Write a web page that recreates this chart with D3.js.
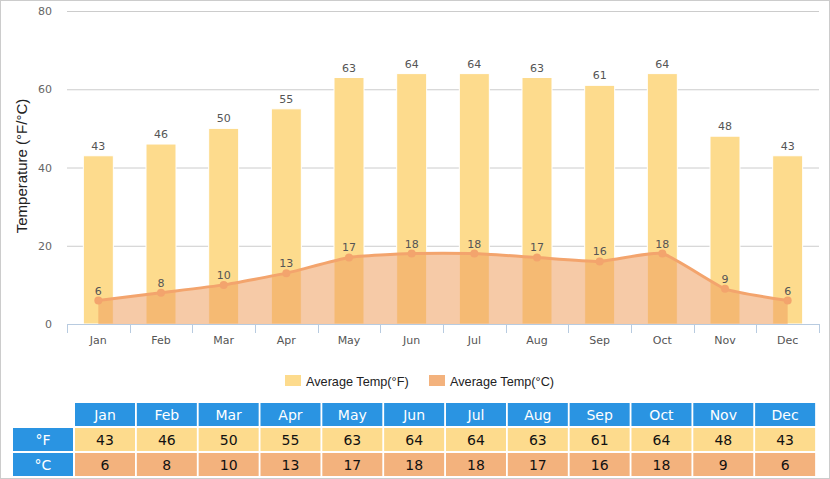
<!DOCTYPE html>
<html><head><meta charset="utf-8">
<script src="https://cdn.jsdelivr.net/npm/d3@7"></script>
<style>body{margin:0;background:#fff}svg{display:block}</style>
</head><body>
<svg id="c" width="830" height="479"></svg>
<script>
const months = ["Jan","Feb","Mar","Apr","May","Jun","Jul","Aug","Sep","Oct","Nov","Dec"];
const tempF = [43,46,50,55,63,64,64,63,61,64,48,43];
const tempC = [6,8,10,13,17,18,18,17,16,18,9,6];
const yTicks = [0,20,40,60,80];
const seriesNames = ["Average Temp(°F)","Average Temp(°C)"];

const svg = d3.select("#c");
svg.append("rect").attr("x",0.5).attr("y",0.5).attr("width",829).attr("height",478)
  .attr("fill","#fff").attr("stroke","#ccc");

const x = d3.scaleBand().domain(months).range([67,819]);
const y = d3.scaleLinear().domain([0,80]).range([324,11]);
const cx = d => x(d)+x.bandwidth()/2;

// grid
svg.append("g").selectAll("line").data(yTicks.filter(t=>t>0)).join("line")
  .attr("x1",67).attr("x2",819).attr("y1",d=>y(d)+0.5).attr("y2",d=>y(d)+0.5)
  .attr("stroke","#ccc");
svg.append("g").selectAll("text").data(yTicks).join("text")
  .attr("x",52).attr("y",d=>y(d)+4).attr("text-anchor","end")
  .attr("font-family","DejaVu Sans, Verdana, sans-serif").attr("font-size",11).attr("fill","#666")
  .text(d=>d);

// bars
const bw = 30;
svg.append("g").selectAll("rect").data(months).join("rect")
  .attr("x",d=>cx(d)-bw/2).attr("width",bw)
  .attr("y",(d,i)=>y(tempF[i])).attr("height",(d,i)=>y(0)-y(tempF[i]))
  .attr("fill","#FDDB8D").attr("stroke","#fff").attr("stroke-width",1);

// area + line
const pts = months.map((m,i)=>[cx(m), y(tempC[i])]);
const curve = d3.curveCardinal.tension(0.55);
const area = d3.area().x(d=>d[0]).y0(y(0)).y1(d=>d[1]).curve(curve);
const line = d3.line().x(d=>d[0]).y(d=>d[1]).curve(curve);
svg.append("path").attr("d",area(pts)).attr("fill","#EE9E5E").attr("fill-opacity",0.55);
svg.append("path").attr("d",line(pts)).attr("fill","none").attr("stroke","#F3A46D").attr("stroke-width",3);
svg.append("g").selectAll("circle").data(pts).join("circle")
  .attr("cx",d=>d[0]).attr("cy",d=>d[1]).attr("r",4).attr("fill","#F3A46D");

// value labels
const lf = "DejaVu Sans, Verdana, sans-serif";
svg.append("g").selectAll("text").data(months).join("text")
  .attr("x",d=>cx(d)).attr("y",(d,i)=>y(tempF[i])-6).attr("text-anchor","middle")
  .attr("font-family",lf).attr("font-size",11).attr("fill","#555").text((d,i)=>tempF[i]);
svg.append("g").selectAll("text").data(months).join("text")
  .attr("x",d=>cx(d)).attr("y",(d,i)=>y(tempC[i])-6).attr("text-anchor","middle")
  .attr("font-family",lf).attr("font-size",11).attr("fill","#555").text((d,i)=>tempC[i]);

// x axis
svg.append("line").attr("x1",67).attr("x2",819).attr("y1",324.5).attr("y2",324.5).attr("stroke","#B8CBE0");
const bounds = months.map(m=>x(m)).concat([819]);
svg.append("g").selectAll("line").data(bounds).join("line")
  .attr("x1",d=>Math.round(d)+0.5).attr("x2",d=>Math.round(d)+0.5).attr("y1",324).attr("y2",333)
  .attr("stroke","#B8CBE0");
svg.append("g").selectAll("text").data(months).join("text")
  .attr("x",d=>cx(d)).attr("y",344).attr("text-anchor","middle")
  .attr("font-family",lf).attr("font-size",11).attr("fill","#555").text(d=>d);

// y title
svg.append("text").attr("transform","translate(27,166) rotate(-90)").attr("text-anchor","middle")
  .attr("font-family","Liberation Sans, Arial, sans-serif").attr("font-size",15).attr("fill","#222")
  .text("Temperature (°F/°C)");

// legend
const legCols = ["#FDDB8D","#F3B27D"];
const legX = [285,429];
seriesNames.forEach((n,i)=>{
  svg.append("rect").attr("x",legX[i]).attr("y",375).attr("width",16).attr("height",11).attr("fill",legCols[i]);
  svg.append("text").attr("x",legX[i]+21).attr("y",386).attr("font-family","Liberation Sans, Arial, sans-serif")
    .attr("font-size",12.7).attr("fill","#222").text(n);
});

// table
const tx0 = 75, pitch = 61.83, cw = 60;
const tf = "DejaVu Sans, Verdana, sans-serif";
const tg = svg.append("g");
months.forEach((m,i)=>{
  const xx = tx0 + i*pitch;
  tg.append("rect").attr("x",xx).attr("y",403).attr("width",cw).attr("height",23).attr("fill","#2A94E2");
  tg.append("text").attr("x",xx+cw/2).attr("y",420).attr("text-anchor","middle").attr("font-family",tf)
    .attr("font-size",14).attr("fill","#fff").text(m);
  tg.append("rect").attr("x",xx).attr("y",428).attr("width",cw).attr("height",23).attr("fill","#FDDB8D");
  tg.append("text").attr("x",xx+cw/2).attr("y",445).attr("text-anchor","middle").attr("font-family",tf)
    .attr("font-size",14).attr("fill","#111").text(tempF[i]);
  tg.append("rect").attr("x",xx).attr("y",453).attr("width",cw).attr("height",23).attr("fill","#F3B27D");
  tg.append("text").attr("x",xx+cw/2).attr("y",470).attr("text-anchor","middle").attr("font-family",tf)
    .attr("font-size",14).attr("fill","#111").text(tempC[i]);
});
["°F","°C"].forEach((l,i)=>{
  const yy = 428 + i*25;
  tg.append("rect").attr("x",13).attr("y",yy).attr("width",60).attr("height",23).attr("fill","#2A94E2");
  tg.append("text").attr("x",43).attr("y",yy+17).attr("text-anchor","middle").attr("font-family",tf)
    .attr("font-size",14).attr("fill","#fff").text(l);
});
</script>
</body></html>
